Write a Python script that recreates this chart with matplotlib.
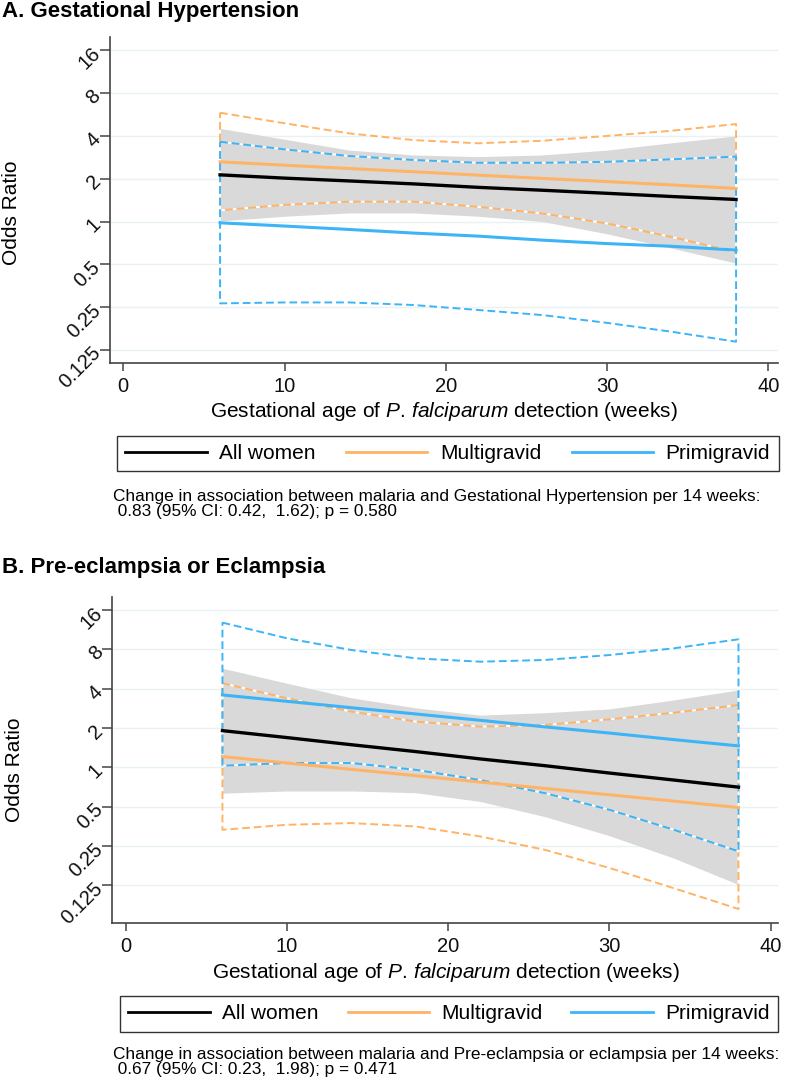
import matplotlib
matplotlib.use('Agg')
import matplotlib.pyplot as plt
from matplotlib.lines import Line2D

plt.rcParams['font.family'] = 'Liberation Sans'
plt.rcParams['mathtext.fontset'] = 'custom'
plt.rcParams['mathtext.rm'] = 'Liberation Sans'
plt.rcParams['mathtext.it'] = 'Liberation Sans:italic'

# weeks at which the curves were read
weeks = [6, 10, 14, 18, 22, 26, 30, 34, 38]

# A. Gestational hypertension
gh_all = [2.13, 2.02, 1.93, 1.84, 1.74, 1.66, 1.58, 1.50, 1.43]
gh_all_lo = [1.01, 1.09, 1.15, 1.15, 1.09, 1.00, 0.82, 0.65, 0.51]
gh_all_hi = [4.52, 3.79, 3.18, 2.94, 2.86, 2.94, 3.18, 3.58, 4.00]
gh_multi = [2.63, 2.49, 2.36, 2.24, 2.12, 2.01, 1.91, 1.81, 1.71]
gh_multi_lo = [1.20, 1.31, 1.38, 1.38, 1.27, 1.14, 0.97, 0.78, 0.61]
gh_multi_hi = [5.82, 4.91, 4.17, 3.74, 3.55, 3.70, 4.00, 4.35, 4.85]
gh_prim = [0.98, 0.93, 0.88, 0.83, 0.79, 0.74, 0.70, 0.67, 0.63]
gh_prim_lo = [0.266, 0.27, 0.27, 0.259, 0.239, 0.22, 0.194, 0.168, 0.143]
gh_prim_hi = [3.64, 3.22, 2.89, 2.71, 2.59, 2.59, 2.63, 2.74, 2.86]

# B. Pre-eclampsia or eclampsia
pe_all = [1.91, 1.69, 1.49, 1.32, 1.16, 1.03, 0.905, 0.80, 0.706]
pe_all_lo = [0.635, 0.66, 0.66, 0.64, 0.548, 0.42, 0.30, 0.202, 0.127]
pe_all_hi = [5.73, 4.40, 3.40, 2.85, 2.51, 2.62, 2.80, 3.28, 3.91]
pe_multi = [1.21, 1.08, 0.966, 0.864, 0.772, 0.690, 0.617, 0.552, 0.493]
pe_multi_lo = [0.333, 0.364, 0.375, 0.353, 0.296, 0.234, 0.17, 0.119, 0.0826]
pe_multi_hi = [4.40, 3.38, 2.67, 2.24, 2.05, 2.11, 2.33, 2.62, 3.00]
pe_prim = [3.58, 3.20, 2.86, 2.56, 2.29, 2.04, 1.83, 1.63, 1.46]
pe_prim_lo = [1.03, 1.08, 1.08, 0.957, 0.80, 0.635, 0.474, 0.333, 0.228]
pe_prim_hi = [12.8, 9.71, 7.90, 6.82, 6.43, 6.63, 7.23, 8.14, 9.54]

ytick_vals = [0.125, 0.25, 0.5, 1, 2, 4, 8, 16]
ytick_labels = ['0.125', '0.25', '0.5', '1', '2', '4', '8', '16']
xtick_vals = [0, 10, 20, 30, 40]
series_names = ['All women', 'Multigravid', 'Primigravid']

BLACK = '#000000'
ORANGE = '#ffb366'
BLUE = '#3cb4f7'
GRAY = '#d9d9d9'

W, H = 787, 1081
fig = plt.figure(figsize=(W / 100, H / 100), dpi=100)


def box(left, right, top, bottom):
    return [left / W, 1 - bottom / H, (right - left) / W, (bottom - top) / H]


def outline(ax, lo, hi, color):
    xs = weeks + weeks[::-1] + [weeks[0]]
    ys = hi + lo[::-1] + [hi[0]]
    ax.plot(xs, ys, color=color, lw=1.4, linestyle=(0, (4, 2)), gapcolor='white', zorder=3)


def panel(rect, xlim, ylim, all_, all_lo, all_hi, multi, multi_lo, multi_hi, prim, prim_lo, prim_hi):
    ax = fig.add_axes(rect)
    ax.set_yscale('log', base=2)
    ax.fill_between(weeks, all_lo, all_hi, color=GRAY, lw=0, zorder=2)
    outline(ax, multi_lo, multi_hi, ORANGE)
    outline(ax, prim_lo, prim_hi, BLUE)
    ax.plot(weeks, all_, color=BLACK, lw=2.4, zorder=5)
    ax.plot(weeks, multi, color=ORANGE, lw=2.2, zorder=5)
    ax.plot(weeks, prim, color=BLUE, lw=2.2, zorder=5)
    ax.set_xlim(*xlim)
    ax.set_ylim(*ylim)
    ax.set_yticks(ytick_vals)
    ax.set_yticklabels(ytick_labels, rotation=45, rotation_mode='anchor', ha='right', va='center')
    ax.minorticks_off()
    ax.set_xticks(xtick_vals)
    ax.yaxis.grid(True, color='#e8f1f3', lw=1.0, zorder=0)
    ax.set_axisbelow(True)
    for s in ['top', 'right']:
        ax.spines[s].set_visible(False)
    for s in ['left', 'bottom']:
        ax.spines[s].set_color('#444444')
        ax.spines[s].set_linewidth(1.2)
    ax.tick_params(axis='both', colors='#444444', labelcolor='#111111', labelsize=14.5, width=1.1)
    ax.tick_params(axis='y', length=7, pad=2)
    ax.tick_params(axis='x', length=6, pad=4)
    return ax


def legend(left, right, top, bottom):
    handles = [Line2D([], [], color=c, lw=2.0) for c in [BLACK, ORANGE, BLUE]]
    leg = fig.legend(handles, series_names, ncol=3, loc='center', mode='expand',
                     bbox_to_anchor=(left / W, 1 - bottom / H, (right - left) / W, (bottom - top) / H),
                     borderaxespad=0, fontsize=15, handlelength=3.9, handletextpad=0.6,
                     frameon=True, fancybox=False, framealpha=1, edgecolor='#333333',
                     borderpad=0.4)
    leg.get_frame().set_linewidth(1.0)


xlabel = r'Gestational age of $\it{P.\,falciparum}$ detection (weeks)'

# Panel A
panel(box(110, 778, 37, 363), (-0.825, 40.6), (0.1013, 19.84),
      gh_all, gh_all_lo, gh_all_hi, gh_multi, gh_multi_lo, gh_multi_hi,
      gh_prim, gh_prim_lo, gh_prim_hi)
fig.text(2 / W, 1 - 16.7 / H, 'A. Gestational Hypertension', fontsize=16, fontweight='bold', va='baseline')
fig.text(12 / W, 1 - 212.5 / H, 'Odds Ratio', rotation=90, fontsize=15, ha='center', va='center')
fig.text(444 / W, 1 - 417.3 / H, xlabel, fontsize=15, ha='center', va='baseline')
legend(117, 778.5, 434, 473.3)
fig.text(113 / W, 1 - 500.7 / H,
         'Change in association between malaria and Gestational Hypertension per 14 weeks:',
         fontsize=12.4, va='baseline')
fig.text(113 / W, 1 - 515.7 / H, ' 0.83 (95% CI: 0.42,  1.62); p = 0.580', fontsize=12.4, va='baseline')

# Panel B
panel(box(112.3, 778, 596.7, 923.3), (-0.83, 40.45), (0.0642, 20.2),
      pe_all, pe_all_lo, pe_all_hi, pe_multi, pe_multi_lo, pe_multi_hi,
      pe_prim, pe_prim_lo, pe_prim_hi)
fig.text(2 / W, 1 - 573.3 / H, 'B. Pre-eclampsia or Eclampsia', fontsize=16, fontweight='bold', va='baseline')
fig.text(15 / W, 1 - 770 / H, 'Odds Ratio', rotation=90, fontsize=15, ha='center', va='center')
fig.text(446 / W, 1 - 978.3 / H, xlabel, fontsize=15, ha='center', va='baseline')
legend(120, 778, 994.3, 1033.3)
fig.text(113 / W, 1 - 1059.3 / H,
         'Change in association between malaria and Pre-eclampsia or eclampsia per 14 weeks:',
         fontsize=12.4, va='baseline')
fig.text(113 / W, 1 - 1074.3 / H, ' 0.67 (95% CI: 0.23,  1.98); p = 0.471', fontsize=12.4, va='baseline')

fig.savefig('out.png', dpi=100)
